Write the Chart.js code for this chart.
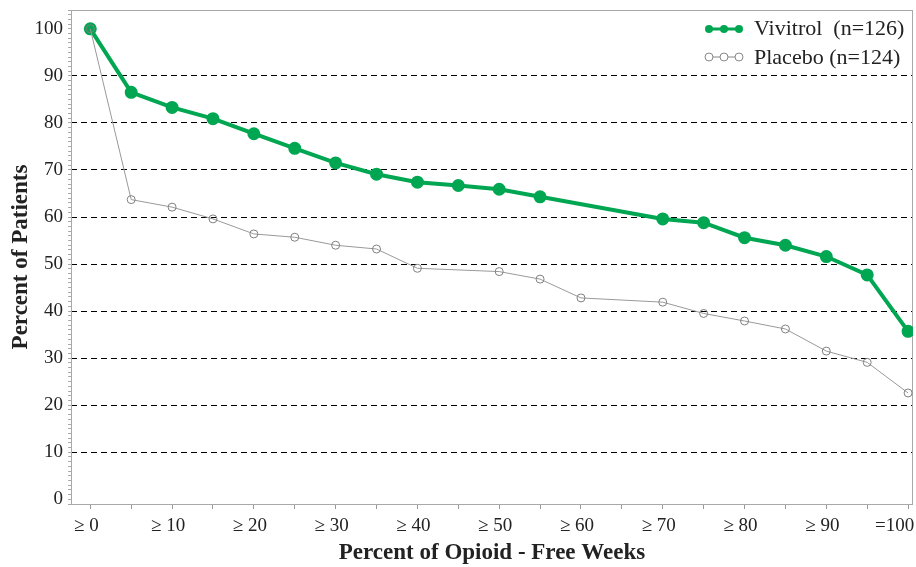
<!DOCTYPE html>
<html>
<head>
<meta charset="utf-8">
<script src="https://cdn.jsdelivr.net/npm/chart.js@4"></script>
<style>
  body { margin: 0; background: #fff; }
  #wrap { width: 916px; height: 567px; position: relative; }
</style>
</head>
<body>
<div id="wrap"><canvas id="myChart"></canvas></div>
<script>
let weeks = [0, 5, 10, 15, 20, 25, 30, 35, 40, 45, 50, 55, 60, 65, 70, 75, 80, 85, 90, 95, 100];
let weekLabels = ['≥ 0', '≥ 10', '≥ 20', '≥ 30', '≥ 40', '≥ 50', '≥ 60', '≥ 70', '≥ 80', '≥ 90', '=100'];
let vivitrol = [100, 86.5, 83.3, 80.9, 77.7, 74.6, 71.5, 69.1, 67.4, 66.7, 65.9, 64.3, null, null, 59.6, 58.8, 55.6, 54.0, 51.6, 47.7, 35.7];
let placebo = [100, 63.7, 62.1, 59.6, 56.4, 55.7, 54.0, 53.2, 49.1, null, 48.4, 46.8, 42.8, null, 41.9, 39.5, 37.9, 36.2, 31.5, 29.1, 22.6];
let seriesNames = ['Vivitrol  (n=126)', 'Placebo (n=124)'];

let green = '#00a651';
let serif = "'Liberation Serif', 'DejaVu Serif', serif";

function toPoints(vals) {
    return weeks.map((w, i) => ({ x: w, y: vals[i] })).filter(p => p.y !== null);
}

// frame round the plot area + the legend in the top right corner
let framePlugin = {
    id: 'frame',
    beforeDatasetsDraw(chart) {
        let a = chart.chartArea, ctx = chart.ctx;
        ctx.save();
        ctx.strokeStyle = '#a8a8a8';
        ctx.lineWidth = 1;
        ctx.strokeRect(a.left + 0.5, a.top + 0.5, a.right - a.left - 1, a.bottom - a.top);
        ctx.restore();
    },
    afterDraw(chart) {
        let ctx = chart.ctx;
        let x0 = chart.chartArea.right - 204;
        ctx.save();
        // vivitrol sample
        ctx.strokeStyle = green;
        ctx.fillStyle = green;
        ctx.lineWidth = 3;
        ctx.beginPath(); ctx.moveTo(x0, 29); ctx.lineTo(x0 + 30, 29); ctx.stroke();
        [0, 15, 30].forEach(d => { ctx.beginPath(); ctx.arc(x0 + d, 29, 4, 0, Math.PI * 2); ctx.fill(); });
        // placebo sample
        ctx.strokeStyle = '#888';
        ctx.lineWidth = 1;
        ctx.beginPath(); ctx.moveTo(x0 - 4, 57); ctx.lineTo(x0 + 34, 57); ctx.stroke();
        ctx.fillStyle = '#fff';
        [0, 15, 30].forEach(d => { ctx.beginPath(); ctx.arc(x0 + d, 57, 4, 0, Math.PI * 2); ctx.fill(); ctx.stroke(); });
        // texts
        ctx.fillStyle = '#222';
        ctx.font = '22px ' + serif;
        ctx.textBaseline = 'alphabetic';
        ctx.fillText(seriesNames[0], x0 + 45, 35);
        ctx.fillText(seriesNames[1], x0 + 45, 64);
        ctx.restore();
    }
};

let ctx = document.getElementById('myChart').getContext('2d');

let chart = new Chart(ctx, {
    type: 'line',
    data: {
        datasets: [
            {
                label: seriesNames[0],
                data: toPoints(vivitrol),
                borderColor: green,
                backgroundColor: green,
                borderWidth: 4,
                pointRadius: 4.5,
                pointBackgroundColor: green,
                pointBorderColor: green,
                tension: 0,
                order: 1
            },
            {
                label: seriesNames[1],
                data: toPoints(placebo),
                borderColor: '#999',
                borderWidth: 1,
                pointRadius: 4,
                pointBackgroundColor: 'rgba(0,0,0,0)',
                pointBorderColor: '#808080',
                pointBorderWidth: 1,
                tension: 0,
                order: 0
            }
        ]
    },
    options: {
        responsive: true,
        maintainAspectRatio: false,
        animation: false,
        layout: { autoPadding: false, padding: { top: 10, right: 3, left: 0, bottom: 0 } },
        plugins: {
            legend: { display: false },
            tooltip: { enabled: false }
        },
        scales: {
            x: {
                type: 'linear',
                min: -2.36,
                max: 100.6,
                afterFit(scale) { scale.height = 63; scale.paddingLeft = 0; scale.paddingRight = 0; },
                border: { display: false },
                grid: {
                    drawOnChartArea: false,
                    tickLength: 5,
                    tickColor: '#999',
                    tickBorderDash: []
                },
                ticks: {
                    stepSize: 5,
                    includeBounds: false,
                    autoSkip: false,
                    maxRotation: 0,
                    padding: 6,
                    labelOffset: -4,
                    color: '#222',
                    font: { family: serif, size: 19 },
                    callback(v) {
                        if (v % 10 !== 0) return '';
                        let lab = weekLabels[v / 10];
                        return v === 100 ? lab + '\u2003' : lab;
                    }
                },
                title: {
                    display: true,
                    text: 'Percent of Opioid - Free Weeks',
                    color: '#222',
                    padding: { top: 0, bottom: 0 },
                    font: { family: serif, size: 23, weight: 'bold' }
                }
            },
            y: {
                min: -1,
                max: 104,
                afterFit(scale) { scale.width = 71; scale.paddingTop = 0; scale.paddingBottom = 0; },
                border: { display: false, dash: [6, 4] },
                grid: {
                    color: c => (c.tick && c.tick.value % 10 === 0 && c.tick.value > 0 && c.tick.value < 100) ? '#000' : 'rgba(0,0,0,0)',
                    lineWidth: 1,
                    tickLength: 3,
                    tickColor: '#aaa',
                    tickBorderDash: []
                },
                ticks: {
                    stepSize: 1,
                    includeBounds: false,
                    autoSkip: false,
                    padding: 5,
                    color: '#222',
                    font: { family: serif, size: 19 },
                    callback(v) {
                        return (v % 10 === 0 && v >= 0 && v <= 100) ? v : '';
                    }
                },
                title: {
                    display: true,
                    text: 'Percent of Patients',
                    color: '#222',
                    padding: { top: 7, bottom: 0 },
                    font: { family: serif, size: 23, weight: 'bold' }
                }
            }
        }
    },
    plugins: [framePlugin]
});
</script>
</body>
</html>
